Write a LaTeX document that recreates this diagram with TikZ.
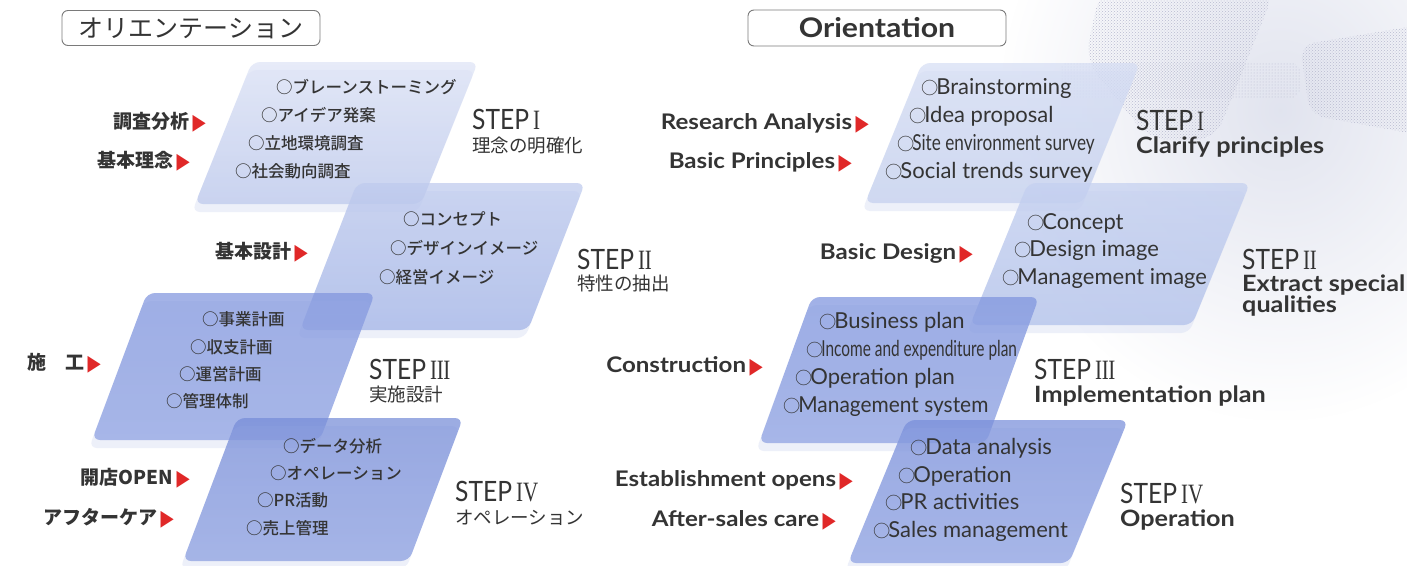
\documentclass[tikz,border=0pt]{standalone}
\usepackage{fontspec}
\usepackage{graphicx}
\usetikzlibrary{patterns,fadings}
\setmainfont{Lato}
\newfontfamily\jp{Noto Sans CJK JP}
\newfontfamily\jpm{Noto Sans CJK JP Medium}
\newfontfamily\sym{DejaVu Sans}
\newfontfamily\rn{Liberation Serif}
\definecolor{txt}{HTML}{343434}
\definecolor{ared}{HTML}{E02828}
\definecolor{hdrline}{HTML}{7A7A7A}
\definecolor{tintA}{HTML}{DCDFEC}
\definecolor{dotc}{HTML}{B9BBD0}
\tikzfading[name=softc, inner color=transparent!15, outer color=transparent!100]
\newcommand\tri{{\sym\fontsize{22}{22}\selectfont\color{ared}\raisebox{-0.5pt}{\scalebox{0.78}[1]{▶}}}}
\newcommand\eci{{\jp\kern-1.2pt\scalebox{0.78}{○}\kern-1.8pt}}
\newcommand\sx[1]{\scalebox{1.12}[1]{#1}}
\newcommand\stepT[1]{\scalebox{0.88}[1]{STEP}\kern4pt{\rn\scalebox{0.75}[1]{#1}}}
\newcommand\slab[7]{%
  \path[slabedge] (#1-3,#2+8) -- ++(#3,0) -- ++(-#5,#4) -- ++(-#3,0) -- cycle;
  \path[slabfill, top color=#6, bottom color=#7] (#1,#2) -- ++(#3,0) -- ++(-#5,#4) -- ++(-#3,0) -- cycle;}
\tikzset{
  x=1pt, y=-1pt,
  slabfill/.style={rounded corners=8pt, fill opacity=0.72},
  slabedge/.style={rounded corners=8pt, fill={rgb,255:red,205;green,213;blue,240}, fill opacity=0.35},
  base/.style={inner sep=0pt, text=txt, text height=0.75em, text depth=0.2em, yshift=-5pt},
  jpitem/.style={base, anchor=west, font=\jpm\fontsize{16.5}{17}\selectfont},
  jplabel/.style={base, anchor=east, font=\jp\bfseries\fontsize{19}{19}\selectfont},
  jpsub/.style={base, anchor=west, font=\jp\fontsize{18.5}{19}\selectfont},
  steptitle/.style={base, anchor=west, font=\fontsize{28}{28}\selectfont},
  enitem/.style={base, anchor=west, font=\fontsize{22}{22}\selectfont},
  enlabel/.style={base, anchor=east, font=\bfseries\fontsize{21.5}{22}\selectfont},
  ensub/.style={base, anchor=west, font=\bfseries\fontsize{22.5}{23}\selectfont},
  hdr/.style={draw=hdrline, line width=0.9pt, rounded corners=6pt, fill=white, inner sep=0pt, text=txt},
}
\begin{document}
\begin{tikzpicture}
\useasboundingbox (0,0) rectangle (1407,565);
\fill[white] (0,0) rectangle (1407,565);
% background tint (right, top)
\fill[tintA, path fading=softc] (1000,-200) rectangle (1560,420);
\fill[pattern=crosshatch dots, pattern color=dotc, rounded corners=20pt] (1100,-10) -- (1275,-10) -- (1215,140) -- (1150,140) -- (1085,60) -- cycle;
\fill[pattern=crosshatch dots, pattern color=dotc, rounded corners=15pt] (1300,45) -- (1420,25) -- (1420,135) -- (1310,115) -- cycle;
\fill[pattern=dots, pattern color=dotc, rounded corners=10pt] (1060,62) -- (1300,62) -- (1300,98) -- (1060,98) -- cycle;

% ===== headers =====
\node[hdr, minimum width=258pt, minimum height=35pt, font=\jp\fontsize{25}{25}\selectfont] (hjp) at (191,28) {オリエンテーション};
\node[hdr, minimum width=258pt, minimum height=36pt, font=\bfseries\fontsize{27}{27}\selectfont] (hen) at (877,28) {\sx{Orientation}};

% ===== left slabs =====
\slab{252}{62}{226}{142}{57}{{rgb,255:red,222;green,228;blue,246}}{{rgb,255:red,188;green,200;blue,236}}
\slab{357}{183}{228}{147}{57}{{rgb,255:red,190;green,202;blue,238}}{{rgb,255:red,160;green,178;blue,230}}
\slab{147}{293}{228}{147}{55}{{rgb,255:red,128;green,149;blue,222}}{{rgb,255:red,140;green,160;blue,226}}
\slab{237}{418}{226}{143}{54}{{rgb,255:red,118;green,140;blue,216}}{{rgb,255:red,138;green,158;blue,224}}
% ===== right slabs =====
\slab{922}{63}{218}{140}{57}{{rgb,255:red,214;green,222;blue,244}}{{rgb,255:red,196;green,208;blue,238}}
\slab{1028}{183}{222}{142}{58}{{rgb,255:red,196;green,208;blue,240}}{{rgb,255:red,176;green,192;blue,234}}
\slab{812}{297}{227}{146}{53}{{rgb,255:red,126;green,148;blue,222}}{{rgb,255:red,140;green,160;blue,226}}
\slab{907}{420}{221}{143}{59}{{rgb,255:red,120;green,142;blue,218}}{{rgb,255:red,140;green,160;blue,226}}

% ===== LEFT: STEP I =====
\node[jpitem] (j1a) at (276,86) {○ブレーンストーミング};
\node[jpitem] (j1b) at (261,114) {○アイデア発案};
\node[jpitem] (j1c) at (248,142) {○立地環境調査};
\node[jpitem] (j1d) at (235,170) {○社会動向調査};
\node[jplabel] (jl1) at (206,121) {調査分析\,\tri};
\node[jplabel] (jl2) at (190,160) {基本理念\,\tri};
\node[steptitle] (js1) at (472,122) {\stepT{I}};
\node[jpsub] (jt1) at (472,145) {理念の明確化};
% STEP II
\node[jpitem] (j2a) at (403,218) {○コンセプト};
\node[jpitem] (j2b) at (390,247) {○デザインイメージ};
\node[jpitem] (j2c) at (379,276) {○経営イメージ};
\node[jplabel] (jl3) at (308,251) {基本設計\,\tri};
\node[steptitle] (js2) at (577,262) {\stepT{I\kern-0.5pt I}};
\node[jpsub] (jt2) at (577,283) {特性の抽出};
% STEP III
\node[jpitem] (j3a) at (202,318) {○事業計画};
\node[jpitem] (j3b) at (190,346) {○収支計画};
\node[jpitem] (j3c) at (179,373) {○運営計画};
\node[jpitem] (j3d) at (166,400) {○管理体制};
\node[jplabel] (jl4) at (101,362) {施　工\,\tri};
\node[steptitle] (js3) at (369,372) {\stepT{I\kern-0.5pt I\kern-0.5pt I}};
\node[jpsub] (jt3) at (369,394) {実施設計};
% STEP IV
\node[jpitem] (j4a) at (283,445) {○データ分析};
\node[jpitem] (j4b) at (270,472) {○オペレーション};
\node[jpitem] (j4c) at (257,499) {○PR活動};
\node[jpitem] (j4d) at (246,527) {○売上管理};
\node[jplabel] (jl5) at (190,477) {開店OPEN\,\tri};
\node[jplabel] (jl6) at (174,517) {アフターケア\,\tri};
\node[steptitle] (js4) at (455,494) {\stepT{IV}};
\node[jpsub] (jt4) at (455,517) {オペレーション};

% ===== RIGHT: STEP I =====
\node[enitem] (e1a) at (922,87) {\eci Brainstorming};
\node[enitem] (e1b) at (910,115) {\eci Idea proposal};
\node[enitem] (e1c) at (898,143) {\eci\scalebox{0.78}[1]{Site environment survey}};
\node[enitem] (e1d) at (886,171) {\eci Social trends survey};
\node[enlabel] (el1) at (869,122) {\sx{Research Analysis}\,\tri};
\node[enlabel] (el2) at (852,161) {\sx{Basic Principles}\,\tri};
\node[steptitle] (es1) at (1136,123) {\stepT{I}};
\node[ensub] (et1) at (1136,146) {\sx{Clarify principles}};
% STEP II
\node[enitem] (e2a) at (1028,222) {\eci Concept};
\node[enitem] (e2b) at (1015,249) {\eci Design image};
\node[enitem] (e2c) at (1003,277) {\eci Management image};
\node[enlabel] (el3) at (973,252) {\sx{Basic Design}\,\tri};
\node[steptitle] (es2) at (1242,262) {\stepT{I\kern-0.5pt I}};
\node[ensub] (et2) at (1242,284) {\sx{Extract special}};
\node[ensub] (et2b) at (1242,305) {\sx{qualities}};
% STEP III
\node[enitem] (e3a) at (820,321) {\eci Business plan};
\node[enitem] (e3b) at (807,349) {\eci\scalebox{0.7}[1]{Income and expenditure plan}};
\node[enitem] (e3c) at (796,377) {\eci Operation plan};
\node[enitem] (e3d) at (784,405) {\eci\scalebox{0.95}[1]{Management system}};
\node[enlabel] (el4) at (763,365) {\sx{Construction}\,\tri};
\node[steptitle] (es3) at (1034,372) {\stepT{I\kern-0.5pt I\kern-0.5pt I}};
\node[ensub] (et3) at (1034,395) {\sx{Implementation plan}};
% STEP IV
\node[enitem] (e4a) at (911,447) {\eci Data analysis};
\node[enitem] (e4b) at (899,475) {\eci Operation};
\node[enitem] (e4c) at (886,502) {\eci PR activities};
\node[enitem] (e4d) at (874,530) {\eci Sales management};
\node[enlabel] (el5) at (853,479) {\sx{Establishment opens}\,\tri};
\node[enlabel] (el6) at (836,519) {\sx{After-sales care}\,\tri};
\node[steptitle] (es4) at (1120,496) {\stepT{IV}};
\node[ensub] (et4) at (1120,519) {\sx{Operation}};
\end{tikzpicture}
\end{document}
